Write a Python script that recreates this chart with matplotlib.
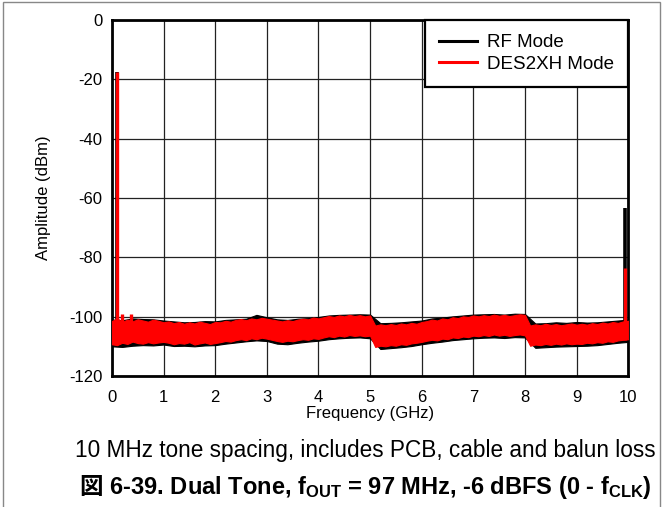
import numpy as np
import matplotlib
matplotlib.use("Agg")
import matplotlib.pyplot as plt
from matplotlib.lines import Line2D
from matplotlib.patches import Rectangle

plt.rcParams['font.family'] = ['Liberation Sans', 'Noto Sans CJK JP', 'DejaVu Sans']
plt.rcParams['mathtext.fontset'] = 'custom'
plt.rcParams['mathtext.rm'] = 'Liberation Sans'
plt.rcParams['mathtext.bf'] = 'Liberation Sans:bold'
plt.rcParams['axes.unicode_minus'] = False

# noise floor envelope, DES2XH mode (red), every 0.1 GHz from 0 to 10 GHz
freq_red = np.round(np.arange(101) * 0.1, 1)
red_top = [-101.5, -100.5, -101.8, -101.0, -101.6, -100.9, -101.3, -101.7, -101.0, -101.4, -101.9,
           -101.6, -102.2, -101.8, -102.4, -101.9, -102.3, -101.7, -102.1, -102.5, -101.8,
           -101.9, -101.4, -101.7, -101.1, -100.8, -101.2, -100.6, -100.9, -100.4, -100.7,
           -101.0, -101.3, -101.6, -101.2, -101.5, -101.0, -100.7, -100.9, -100.3, -100.6,
           -100.2, -99.8, -100.1, -99.6, -99.9, -99.4, -99.8, -99.5, -99.9, -99.6,
           -103.0, -102.6, -102.9, -102.5, -102.8, -102.3, -102.6, -102.1, -102.4, -101.8,
           -101.5, -101.0, -101.3, -100.6, -100.9, -100.2, -100.5, -99.9, -100.1, -99.6,
           -99.9, -99.5, -99.8, -99.3, -99.7, -99.4, -99.8, -99.5, -99.2, -99.4,
           -103.0, -102.6, -102.9, -102.4, -102.8, -102.5, -102.9, -102.6, -102.3, -102.7,
           -102.4, -102.7, -102.2, -102.5, -102.0, -102.3, -101.8, -102.1, -101.6, -101.4]
red_bot = [-109.3, -109.6, -108.8, -109.2, -108.4, -108.9, -109.1, -108.6, -109.0, -108.7, -108.5,
           -108.8, -109.3, -108.9, -109.1, -108.6, -109.4, -109.0, -108.7, -109.2, -108.9,
           -108.6, -108.2, -108.4, -107.9, -107.6, -107.9, -107.3, -107.6, -107.1, -107.4,
           -107.8, -108.2, -108.5, -108.1, -108.3, -107.9, -107.6, -107.8, -107.3, -107.5,
           -107.0, -106.6, -106.9, -106.4, -106.7, -106.2, -106.5, -106.3, -106.6, -106.4,
           -110.2, -109.8, -110.0, -109.6, -109.8, -109.3, -109.5, -109.0, -108.8, -108.5,
           -108.1, -107.8, -108.0, -107.4, -107.6, -107.0, -107.2, -106.7, -106.9, -106.4,
           -106.6, -106.2, -106.5, -106.0, -106.4, -106.1, -106.5, -106.2, -106.0, -106.3,
           -109.8, -109.4, -109.6, -109.2, -109.5, -109.1, -109.4, -109.0, -109.3, -109.1,
           -109.2, -108.8, -109.0, -108.6, -108.8, -108.3, -108.5, -108.0, -107.8, -107.6]

# noise floor envelope, RF mode (black), every 0.2 GHz
freq_black = np.round(np.arange(51) * 0.2, 1)
black_top = [-101.0, -101.2, -100.6, -100.8, -100.9, -101.3, -101.6, -101.9, -101.8, -101.5,
             -101.6, -101.1, -100.9, -100.7, -99.4, -100.2, -100.9, -101.1, -100.7, -100.5,
             -100.1, -99.6, -99.4, -99.3, -99.2, -99.3, -102.2, -102.1, -101.9, -101.6,
             -101.3, -100.6, -100.3, -99.9, -99.6, -99.3, -99.2, -99.1, -99.3, -99.0,
             -99.1, -102.3, -102.2, -101.9, -102.1, -101.8, -102.0, -101.9, -101.6, -101.3, -101.0]
black_bot = [-110.0, -110.2, -109.8, -109.6, -109.7, -109.4, -109.9, -109.8, -110.0, -109.7,
             -109.6, -109.1, -108.7, -108.3, -108.0, -108.2, -109.1, -109.3, -108.8, -108.4,
             -108.1, -107.6, -107.3, -107.1, -107.0, -107.3, -110.9, -110.6, -110.3, -109.9,
             -109.3, -108.8, -108.4, -107.9, -107.6, -107.3, -107.1, -107.0, -107.2, -106.9,
             -107.0, -110.5, -110.3, -110.1, -110.0, -109.9, -109.8, -109.6, -109.2, -108.8, -108.5]

# tones and spurs (GHz) with peak levels
spur_freq = [0.097, 0.19, 0.38, 9.93]
red_peak = [-17.4, -99.0, -99.0, -83.7]
black_peak = [-17.4, -101.0, -101.0, -63.5]

fig = plt.figure(figsize=(6.62, 5.07), dpi=100)
ax = fig.add_axes([0.169, 0.2584, 0.78, 0.7022])

ax.fill_between(freq_black, black_bot, black_top, color='black', lw=0.8, zorder=2)
ax.vlines(spur_freq, -108, black_peak, color='black', lw=2.6, zorder=2)
ax.fill_between(freq_red, red_bot, red_top, color='#ff0000', lw=0.8, zorder=3)
ax.vlines(spur_freq, -108, red_peak, color='#ff0000', lw=2.4, zorder=3)

ax.set_xlim(0, 10)
ax.set_ylim(-120, 0)
ax.set_xticks(range(0, 11))
ax.set_yticks(range(-120, 1, 20))
ax.grid(True, color='#222222', lw=0.9)
ax.set_axisbelow(True)
ax.tick_params(length=0, labelsize=12)
ax.tick_params(axis='x', pad=10)
ax.tick_params(axis='y', pad=7)
for s in ax.spines.values():
    s.set_linewidth(2)
ax.set_xlabel('Frequency (GHz)', fontsize=12, labelpad=1)
ax.set_ylabel('Amplitude (dBm)', fontsize=12, labelpad=13)

handles = [Line2D([], [], color='black', lw=2.2), Line2D([], [], color='#ff0000', lw=2.2)]
leg = ax.legend(handles, ['RF Mode', 'DES2XH Mode'], loc='upper right', fontsize=13.5,
                fancybox=False, framealpha=1, borderaxespad=0, handlelength=2.0,
                handletextpad=0.55, labelspacing=0.25, borderpad=0.75)
leg.get_frame().set_edgecolor('black')
leg.get_frame().set_linewidth(1.6)
leg.set_zorder(5)

fig.text(0.552, 0.112, '10 MHz tone spacing, includes PCB, cable and balun loss',
         ha='center', va='center', fontsize=16.3)

# caption title: CJK mark drawn separately, then the mathtext part right after it
fs = 17
cx, by = 0.552 * 662, 0.026
t1 = fig.text(0, by, '図', fontfamily='Noto Sans CJK JP', fontweight='bold',
              fontsize=fs, ha='left', va='baseline')
t2 = fig.text(0, by, ' 6-39. Dual Tone, $\\mathbf{f_{OUT}}$ = 97 MHz, -6 dBFS (0 - $\\mathbf{f_{CLK}}$)',
              fontsize=fs, fontweight='bold', ha='left', va='baseline')
r = fig.canvas.get_renderer()
w1 = t1.get_window_extent(r).width
w2 = t2.get_window_extent(r).width
x0 = cx - (w1 + w2) / 2
t1.set_x(x0 / 662)
t2.set_x((x0 + w1) / 662)

fig.add_artist(Rectangle((3 / 662, -0.1), 657 / 662, 1.1 - 2 / 507, transform=fig.transFigure,
                         fill=False, edgecolor='#888888', lw=1))

fig.savefig('out.png', dpi=100)
